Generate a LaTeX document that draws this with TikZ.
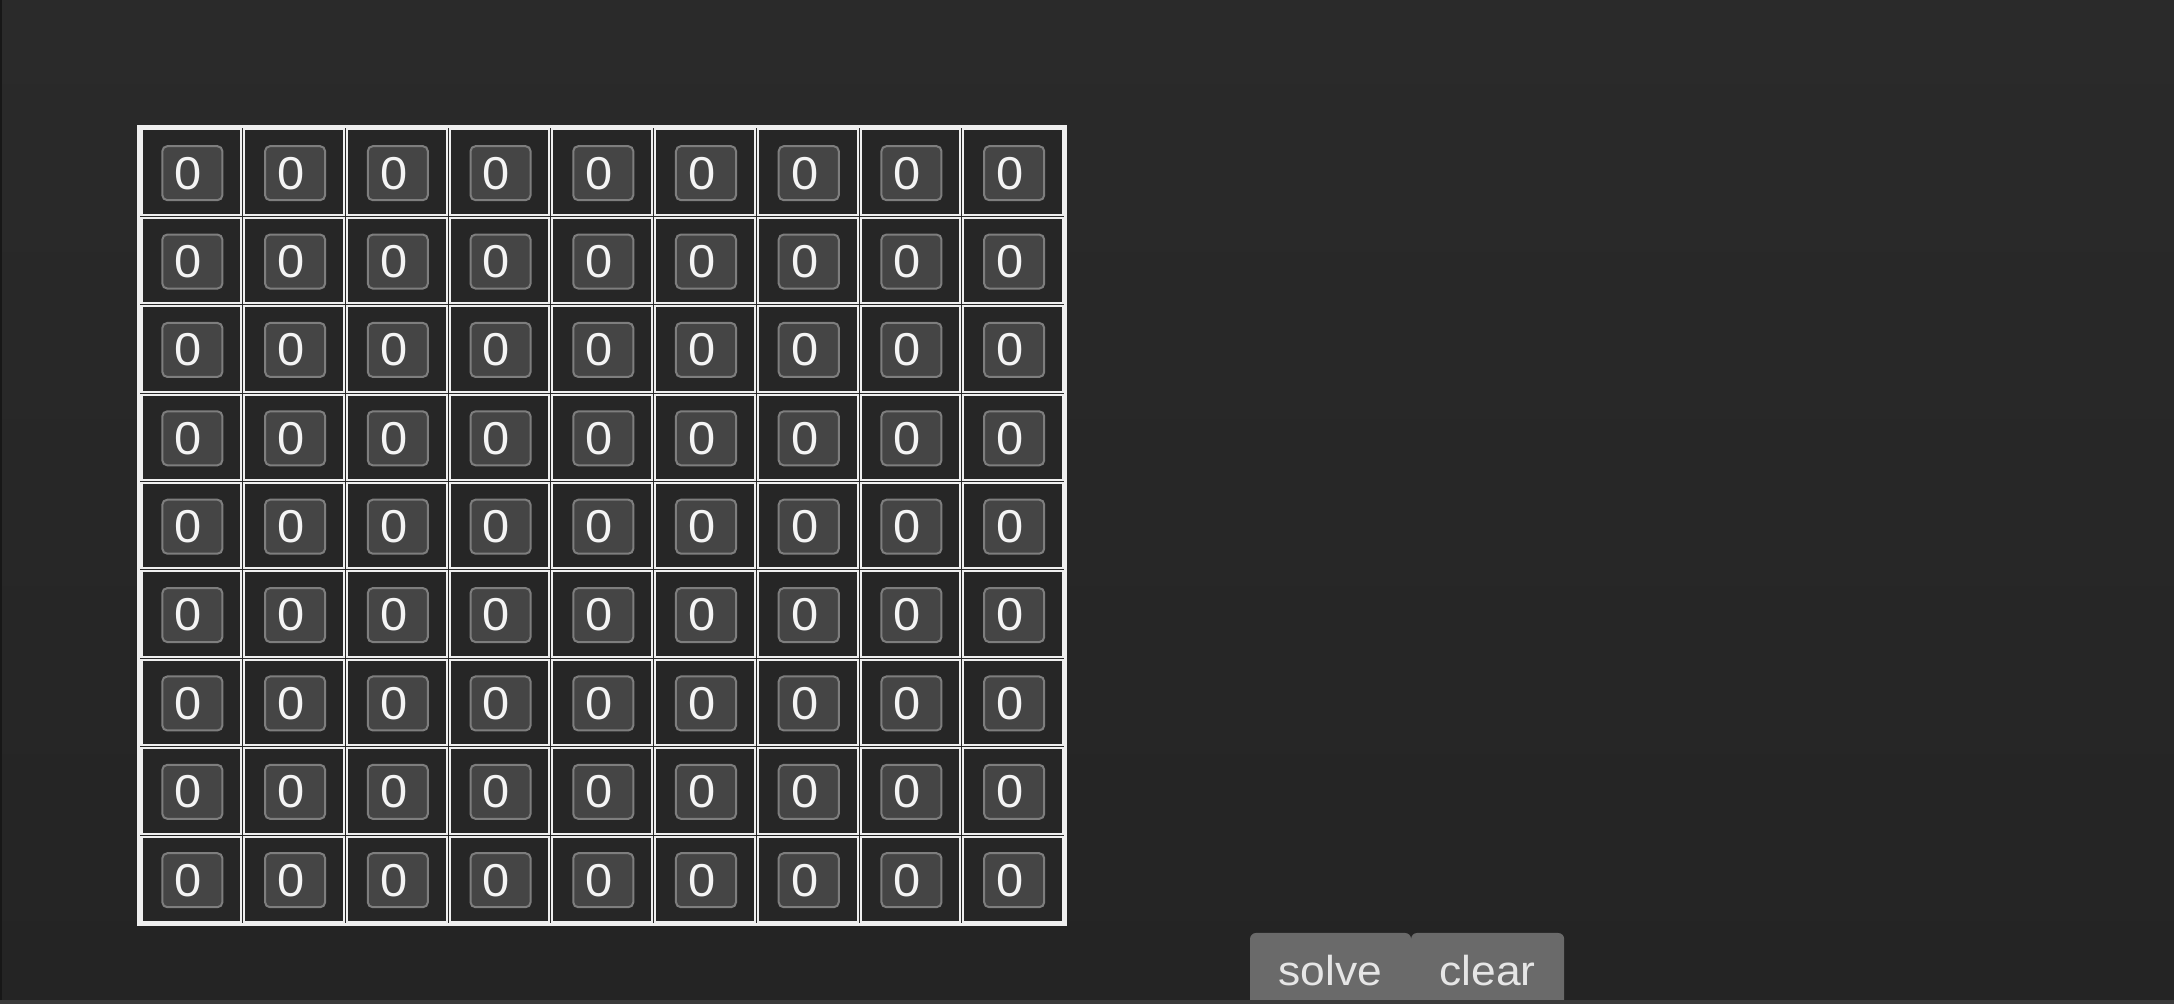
\documentclass[tikz,border=0pt]{standalone}
\usepackage{fontspec}
\setmainfont{Liberation Sans}[FakeStretch=1.06]
\usetikzlibrary{matrix,positioning}

\definecolor{bgtop}{HTML}{2A2A2A}
\definecolor{bgbottom}{HTML}{242424}
\definecolor{edgedark}{HTML}{171717}
\definecolor{bottomline}{HTML}{3A3A3A}
\definecolor{gridline}{HTML}{EFEFEF}
\definecolor{cellfill}{HTML}{262626}
\definecolor{btnfill}{HTML}{454545}
\definecolor{btnedge}{HTML}{7E7E7E}
\definecolor{digitwhite}{HTML}{F4F4F4}
\definecolor{actionfill}{HTML}{6A6A6A}
\definecolor{actiontext}{HTML}{E6E6E6}

\begin{document}
\begin{tikzpicture}[x=0.01cm, y=-0.01cm]
    \tikzstyle{cell}=[rectangle, minimum width=0.9967cm, minimum height=0.8533cm, draw=gridline, fill=cellfill, line width=0.02cm, inner sep=0pt, outer sep=0pt]
    \tikzstyle{digit}=[rectangle, rounded corners=0.05cm, minimum width=0.6cm, minimum height=0.54cm, fill=btnfill, draw=btnedge, line width=0.02cm, text=digitwhite, inner sep=0pt, font=\fontsize{13.1}{14}\selectfont, execute at begin node={\hspace*{-0.08cm}}]
    \tikzstyle{action}=[rectangle, rounded corners=0.06cm, minimum height=0.76cm, fill=actionfill, text=actiontext, inner sep=0pt, outer sep=0pt, font=\fontsize{11.9}{13}\selectfont]
    \tikzstyle{every matrix}=[matrix of nodes, ampersand replacement=\&, nodes in empty cells, nodes={cell}, column sep=0.01cm, row sep=0.01cm, inner sep=0pt, outer sep=0pt]
    \useasboundingbox (0,0) rectangle (2174,1004);
    \clip (0,0) rectangle (2174,1004);
    \shade[top color=bgtop, bottom color=bgbottom] (0,0) rectangle (2174,1004);
    \fill[edgedark] (0,0) rectangle (2,1004);

    % board
    \draw[gridline, line width=0.025cm] (138.5,126.5) rectangle (1065.5,924.5);
    \matrix (grid) [anchor=north west] at (140.5,128.5)
    {
      \& \& \& \& \& \& \& \& \\
      \& \& \& \& \& \& \& \& \\
      \& \& \& \& \& \& \& \& \\
      \& \& \& \& \& \& \& \& \\
      \& \& \& \& \& \& \& \& \\
      \& \& \& \& \& \& \& \& \\
      \& \& \& \& \& \& \& \& \\
      \& \& \& \& \& \& \& \& \\
      \& \& \& \& \& \& \& \& \\
    };
    \foreach \r in {1,...,9}
      \foreach \c in {1,...,9}
        \node[digit] (b-\r-\c) at ([xshift=0.01cm, yshift=-0.01cm]grid-\r-\c.center) {0};

    % buttons
    \node[action, minimum width=1.61cm, anchor=north west] (solve) at (1250,933) {solve};
    \node[action, minimum width=1.53cm, right=0pt of solve] (clear) {clear};

    \fill[bottomline] (0,1000) rectangle (2174,1004);
\end{tikzpicture}
\end{document}
